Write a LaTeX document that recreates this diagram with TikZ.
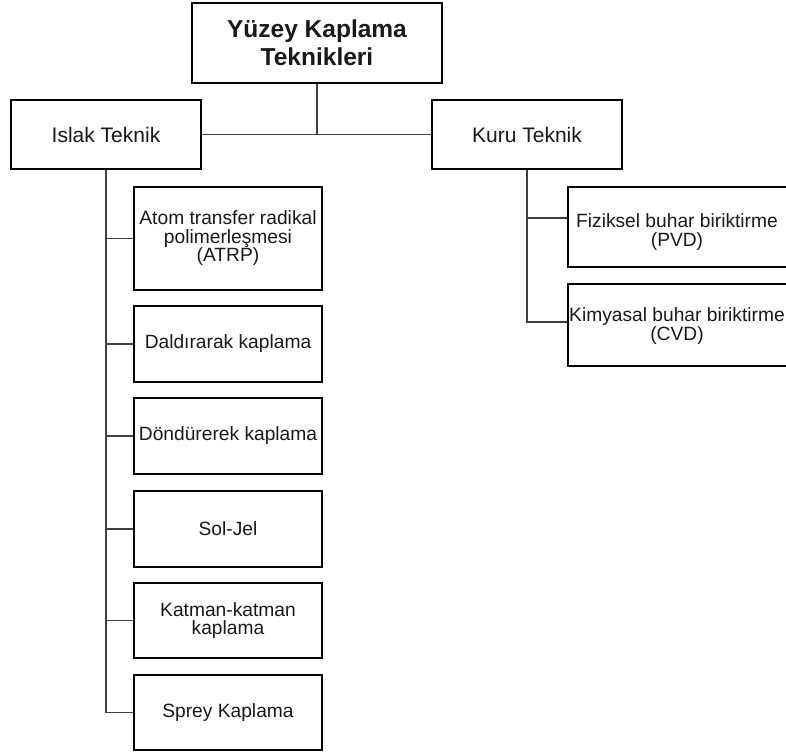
\documentclass[tikz,border=0pt]{standalone}
\usepackage{fontspec}
\setmainfont{Liberation Sans}
\begin{document}
\begin{tikzpicture}[x=1pt,y=-1pt,
  box/.style={draw=black,line width=1.6pt,rectangle,inner sep=0pt,align=center,text=black!90},
  lvl0/.style={box,font=\fontsize{24.5}{28}\selectfont\bfseries},
  lvl1/.style={box,font=\fontsize{21}{24}\selectfont},
  lvl2/.style={box,font=\fontsize{19.2}{18.5}\selectfont},
  lvl2txt/.style={inner sep=0pt,align=center,text=black!90,font=\fontsize{19.2}{18.5}\selectfont},
  conn/.style={draw=black!75,line width=1.2pt}]
\useasboundingbox (0,0) rectangle (786,753);
\node[lvl0,minimum width=250pt,minimum height=80pt] (top) at (317,43) {Yüzey Kaplama\\Teknikleri};
\node[lvl1,minimum width=190pt,minimum height=69pt] (islak) at (106,134.5) {Islak Teknik};
\node[lvl1,minimum width=190pt,minimum height=69pt] (kuru) at (527,134.5) {Kuru Teknik};
\node[lvl2,minimum width=188pt,minimum height=103pt] (atrp) at (228,238.5) {Atom transfer radikal\\polimerleşmesi\\(ATRP)};
\node[lvl2,minimum width=188pt,minimum height=76pt] (dald) at (228,344) {Daldırarak kaplama};
\node[lvl2,minimum width=188pt,minimum height=76pt] (dond) at (228,436) {Döndürerek kaplama};
\node[lvl2,minimum width=188pt,minimum height=76pt] (sol) at (228,529) {Sol-Jel};
\node[lvl2,minimum width=188pt,minimum height=75pt] (katman) at (228,620.5) {Katman-katman\\kaplama};
\node[lvl2,minimum width=188pt,minimum height=75pt] (sprey) at (228,712.5) {Sprey Kaplama};
\node[lvl2,minimum width=240pt,minimum height=80pt] (pvd) at (688,227) {};
\node[lvl2txt] (pvdtxt) at (677,232) {Fiziksel buhar biriktirme\\(PVD)};
\node[lvl2,minimum width=240pt,minimum height=82pt] (cvd) at (688,325) {};
\node[lvl2txt] (cvdtxt) at (677,326) {Kimyasal buhar biriktirme\\(CVD)};
\draw[conn] (top.south) |- (islak.east);
\draw[conn] (top.south) |- (kuru.west);
\foreach \c in {atrp,dald,dond,sol,katman,sprey}
  \draw[conn] (islak.south) |- (\c.west);
\draw[conn] (kuru.south) |- ([yshift=9pt]pvd.west);
\draw[conn] (kuru.south) |- ([yshift=3pt]cvd.west);
\end{tikzpicture}
\end{document}
